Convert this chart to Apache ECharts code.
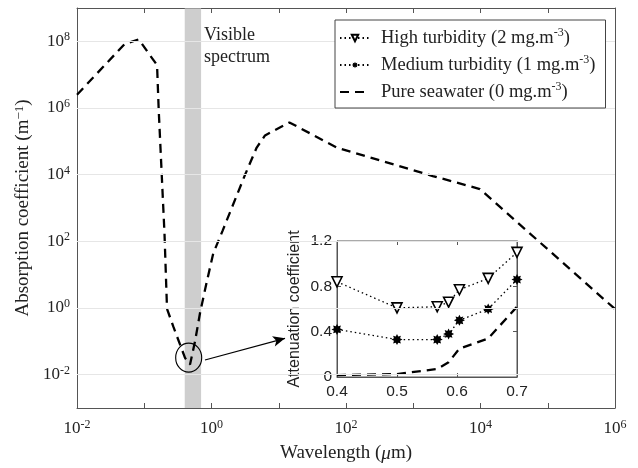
<!DOCTYPE html>
<html>
<head>
<meta charset="utf-8">
<script src="https://cdn.jsdelivr.net/npm/echarts@6/dist/echarts.min.js"></script>
<style>
  html, body { margin: 0; padding: 0; background: #fff; }
  #chart { width: 638px; height: 468px; }
</style>
</head>
<body>
<div id="chart"></div>
<script>
// pure seawater curve (um, 1/m)
var seaWavelength = [0.01, 0.051, 0.083, 0.123, 0.155, 0.164, 0.2, 0.218, 0.27, 0.34, 0.404, 0.479,
  0.569, 0.675, 0.83, 1.06, 1.47, 3.16, 4.7, 6.25, 14.4, 73, 1950, 9800, 1e6];
var seaAbsorption = [2.5e6, 8.3e7, 1.15e8, 3.7e7, 1.95e7, 8.9e5, 170, 0.95, 0.28, 0.081, 0.032, 0.02,
  0.1, 0.71, 4.9, 43, 214, 1.0e4, 6.5e4, 1.5e5, 3.7e5, 6.5e4, 9100, 3700, 0.93];

// inset (visible range)
var insetWavelength = [0.4, 0.5, 0.567, 0.586, 0.604, 0.652, 0.7];
var highTurbidity = [0.84, 0.61, 0.62, 0.66, 0.77, 0.87, 1.10];
var mediumTurbidity = [0.42, 0.33, 0.33, 0.38, 0.50, 0.60, 0.86];
var pureSeawater = [0.017, 0.026, 0.071, 0.13, 0.25, 0.34, 0.62];

var visibleBand = [0.4, 0.7];
var yTickExp = [-2, 0, 2, 4, 6, 8];

var HIGH = 'High turbidity (2 mg.m-3)';
var MED = 'Medium turbidity (1 mg.m-3)';
var PURE = 'Pure seawater (0 mg.m-3)';

var serif = '"Liberation Serif", "DejaVu Serif", serif';
var sans = '"Liberation Sans", Arial, sans-serif';
var axisGray = '#555';

function lg(v) { return Math.log10(v); }
function pow10(v) { return '{b|10}{s|' + v + '}'; }

// asterisk marker
function starPath(arms, R, r) {
  var p = [];
  for (var i = 0; i < arms * 2; i++) {
    var a = Math.PI * i / arms - Math.PI / 2;
    var rad = i % 2 === 0 ? R : r;
    p.push((i ? 'L' : 'M') + (rad * Math.cos(a)).toFixed(2) + ' ' + (rad * Math.sin(a)).toFixed(2));
  }
  return 'path://' + p.join(' ') + ' Z';
}

var seaData = seaWavelength.map(function (w, i) { return [lg(w), lg(seaAbsorption[i])]; });
function insetPairs(arr) { return insetWavelength.map(function (w, i) { return [w, arr[i]]; }); }

var supRich = {
  b: { fontFamily: serif, fontSize: 17, lineHeight: 20, color: '#222' },
  s: { fontFamily: serif, fontSize: 12, lineHeight: 10, verticalAlign: 'top', color: '#222' }
};

function boxAxis(extra) {
  var a = {
    type: 'value',
    axisLine: { show: true, onZero: false, lineStyle: { color: axisGray } },
    axisTick: { show: true, inside: true, length: 5, lineStyle: { color: axisGray } },
    axisLabel: { show: false },
    splitLine: { show: false }
  };
  for (var k in extra) {
    if (typeof extra[k] === 'object' && a[k] && !Array.isArray(extra[k])) {
      a[k] = Object.assign({}, a[k], extra[k]);
    } else {
      a[k] = extra[k];
    }
  }
  return a;
}

var chart = echarts.init(document.getElementById('chart'));

var option = {
  backgroundColor: '#fff',
  animation: false,
  grid: [
    { left: 77, top: 8, width: 538, height: 404 },
    { left: 337, top: 241, width: 180, height: 136, show: true, backgroundColor: '#fff',
      borderColor: axisGray, borderWidth: 1, z: 2 }
  ],
  legend: {
    data: [
      { name: HIGH, symbolRotate: 180 },
      { name: MED },
      { name: PURE, itemStyle: { opacity: 0 } }
    ],
    z: 20,
    orient: 'vertical',
    left: 335, top: 20,
    padding: [7, 10, 5, 4],
    itemGap: 5,
    itemWidth: 30, itemHeight: 8,
    backgroundColor: '#fff',
    borderColor: '#444', borderWidth: 1,
    formatter: function (name) { return name.replace('-3', '{s|-3}'); },
    textStyle: {
      fontFamily: serif, fontSize: 18.5, lineHeight: 22, color: '#222', padding: [0, 0, 0, 6],
      rich: { s: { fontFamily: serif, fontSize: 12, lineHeight: 12, verticalAlign: 'top', color: '#222' } }
    }
  },
  xAxis: [
    boxAxis({ gridIndex: 0, min: -2, max: 6, interval: 1,
      axisLabel: { show: true, margin: 11, formatter: function (v) { return v % 2 === 0 ? pow10(v) : ''; }, rich: supRich },
      name: 'Wavelength ({i|\u03bc}m)', nameLocation: 'middle', nameGap: 36,
      nameTextStyle: { fontFamily: serif, fontSize: 19, color: '#222',
        rich: { i: { fontFamily: serif, fontSize: 19, fontStyle: 'italic', color: '#222' } } } }),
    boxAxis({ gridIndex: 0, position: 'top', min: -2, max: 6, interval: 1 }),
    boxAxis({ gridIndex: 1, min: 0.4, max: 0.7, interval: 0.1, z: 3,
      axisTick: { length: 4 },
      axisLabel: { show: true, margin: 7, fontFamily: sans, fontSize: 15.5, color: '#222',
        formatter: function (v) { return v.toFixed(1); } } }),
    boxAxis({ gridIndex: 1, position: 'top', min: 0.4, max: 0.7, interval: 0.1, z: 3,
      axisTick: { length: 4 } })
  ],
  yAxis: [
    boxAxis({ gridIndex: 0, min: -3, max: 9,
      axisTick: { customValues: yTickExp },
      axisLabel: { show: true, margin: 7, customValues: yTickExp, formatter: pow10, rich: supRich },
      name: 'Absorption coefficient (m{s|\u22121})', nameLocation: 'middle', nameGap: 42,
      nameTextStyle: { fontFamily: serif, fontSize: 19, color: '#222',
        rich: { s: { fontFamily: serif, fontSize: 13, lineHeight: 12, verticalAlign: 'top', color: '#222' } } } }),
    boxAxis({ gridIndex: 0, position: 'right', min: -3, max: 9,
      axisTick: { customValues: yTickExp } }),
    boxAxis({ gridIndex: 1, min: 0, max: 1.2, interval: 0.4, z: 3,
      axisTick: { length: 4 },
      axisLabel: { show: true, margin: 5, fontFamily: sans, fontSize: 15.5, color: '#222',
        formatter: function (v) { return v === 0 ? '0' : v.toFixed(1); } },
      name: 'Attenuation coefficient', nameLocation: 'middle', nameGap: 34,
      nameTextStyle: { fontFamily: sans, fontSize: 16, color: '#222' } }),
    boxAxis({ gridIndex: 1, position: 'right', min: 0, max: 1.2, interval: 0.4, z: 3,
      axisTick: { length: 4 } })
  ],
  graphic: [
    { type: 'text', left: 204, top: 24, z: 10,
      style: { text: 'Visible\nspectrum', fontFamily: serif, fontSize: 18, lineHeight: 22, fill: '#222' } }
  ],
  series: [
    // horizontal grid lines at the labelled decades
    { name: 'grid', type: 'line', xAxisIndex: 0, yAxisIndex: 0, data: [], z: 1,
      markLine: { silent: true, symbol: 'none', label: { show: false },
        lineStyle: { color: '#e6e6e6', width: 1, type: 'solid' },
        data: yTickExp.map(function (e) { return { yAxis: e }; }) } },
    { name: PURE, type: 'line', xAxisIndex: 0, yAxisIndex: 0, data: seaData,
      symbol: 'none', color: '#000',
      lineStyle: { color: '#000', width: 2.3, type: [9, 6] } },
    { name: 'band', type: 'line', xAxisIndex: 0, yAxisIndex: 0, data: [], z: 5,
      markArea: { silent: true, itemStyle: { color: 'rgba(185,185,185,0.7)' },
        data: [[{ xAxis: lg(visibleBand[0]) }, { xAxis: lg(visibleBand[1]) }]] } },
    { name: 'annot', type: 'line', xAxisIndex: 0, yAxisIndex: 0, data: [], z: 6,
      markPoint: { silent: true, symbol: 'circle', symbolSize: [26, 29], label: { show: false },
        itemStyle: { color: 'rgba(0,0,0,0)', borderColor: '#000', borderWidth: 1.2 },
        data: [{ coord: [lg(0.458), -1.49] }] },
      markLine: { silent: true, symbol: ['none', 'arrow'], symbolSize: [8, 12], label: { show: false },
        lineStyle: { color: '#000', width: 1.2, type: 'solid' },
        data: [[{ coord: [lg(0.8), -1.56] }, { coord: [lg(12.4), -0.91] }]] } },
    { name: HIGH, type: 'line', xAxisIndex: 2, yAxisIndex: 2, data: insetPairs(highTurbidity), z: 4,
      symbol: 'triangle', symbolRotate: 180, symbolSize: 10, showAllSymbol: true, color: '#000',
      itemStyle: { color: '#fff', borderColor: '#000', borderWidth: 1.6 },
      lineStyle: { color: '#000', width: 1.3, type: [1.5, 3] } },
    { name: MED, type: 'line', xAxisIndex: 2, yAxisIndex: 2, data: insetPairs(mediumTurbidity), z: 4,
      symbol: starPath(8, 10, 6), symbolSize: 11, showAllSymbol: true, color: '#000',
      itemStyle: { color: '#000' },
      lineStyle: { color: '#000', width: 1.3, type: [1.5, 3] } },
    { name: PURE, type: 'line', xAxisIndex: 2, yAxisIndex: 2, data: insetPairs(pureSeawater), z: 4,
      symbol: 'none', color: '#000',
      lineStyle: { color: '#000', width: 2.3, type: [9, 6] } }
  ]
};

chart.setOption(option);
</script>
</body>
</html>
